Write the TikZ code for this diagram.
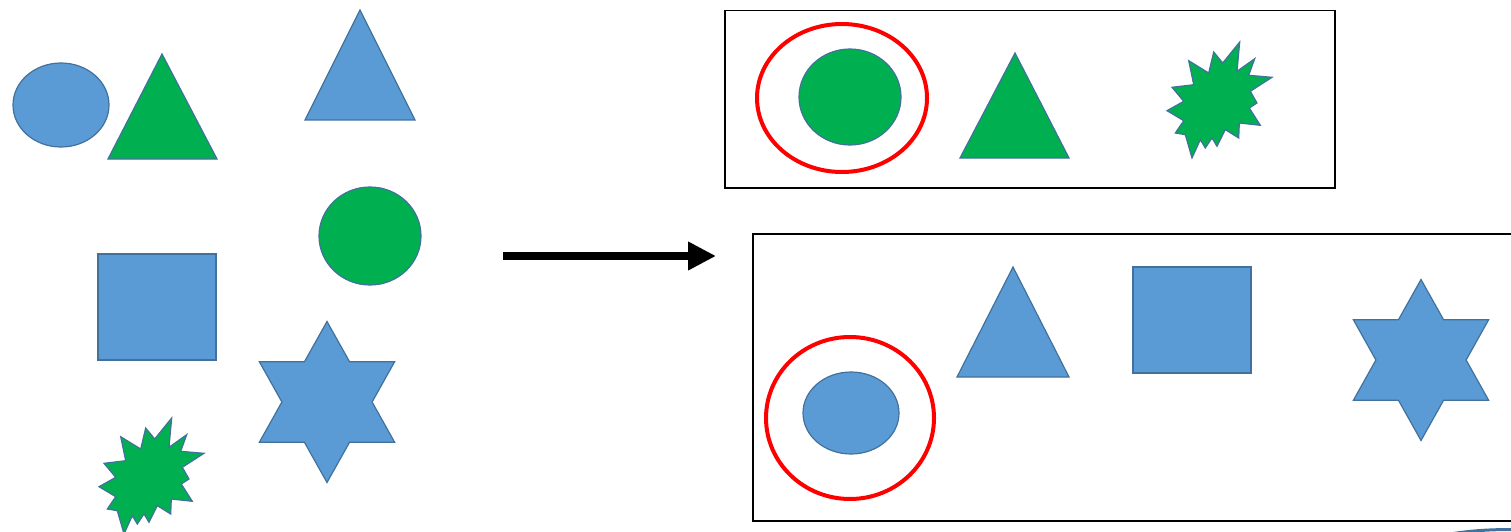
\documentclass[tikz,border=0pt]{standalone}
\usetikzlibrary{arrows.meta}
\definecolor{pblue}{HTML}{5B9BD5}
\definecolor{pedge}{HTML}{41719C}
\definecolor{pgreen}{HTML}{00B050}
\tikzset{
  bluesh/.style={fill=pblue,draw=pedge,line width=1.2pt,line join=miter},
  greensh/.style={fill=pgreen,draw=pedge,line width=1.2pt,line join=miter},
  redring/.style={draw=red,line width=4pt},
  frame/.style={draw=black,line width=1.5pt},
  hexstar/.pic={\path[bluesh,xscale=0.97] (90:80.5) -- (60:46.5) -- (30:80.5) -- (0:46.5) -- (-30:80.5) -- (-60:46.5) -- (-90:80.5) -- (-120:46.5) -- (-150:80.5) -- (180:46.5) -- (150:80.5) -- (120:46.5) -- cycle;},
  burst/.pic={\path[greensh] (77.7,4) -- (75,33.3) -- (92.7,20.7) -- (86.7,37.3) -- (110,39.3) -- (88.3,53.3) -- (95,65) -- (87.3,70) -- (98.3,87.3) -- (77.3,85) -- (76.7,100) -- (63.3,91.7) -- (55,108.3) -- (50,100) -- (43.3,110) -- (38.3,101.7) -- (30,120) -- (23.3,96.7) -- (13.3,95) -- (21.7,82.7) -- (5,72.7) -- (21.7,63.3) -- (10,49.3) -- (31.7,46.7) -- (26.7,22.7) -- (46.7,35) -- (51.7,14) -- (60.7,25) -- cycle;}
}
\begin{document}
\begin{tikzpicture}[x=1pt,y=-1pt]
\useasboundingbox (0,0) rectangle (1511,532);
% left group
\path[bluesh] (61,105) ellipse [x radius=48,y radius=42];
\path[greensh] (162,54) -- (217,159) -- (108,159) -- cycle;
\path[bluesh] (360,10) -- (415,120) -- (305,120) -- cycle;
\path[greensh] (370,236) ellipse [x radius=51,y radius=49];
\path[bluesh] (98,254) rectangle (216,360);
\pic at (327,402) {hexstar};
\pic at (94,414) {burst};
% arrow
\coordinate (a1) at (503,256);
\coordinate (a2) at (716,256);
\draw[line width=8pt,-{Triangle[length=28pt,width=27pt]}] (a1) -- (a2);
% top right box
\node[frame,minimum width=610pt,minimum height=177pt,inner sep=0pt,anchor=north west] (box1) at (724,10) {};
\path[redring] (842,98) ellipse [x radius=85,y radius=74];
\path[greensh] (850,97) ellipse [x radius=51,y radius=48];
\path[greensh] (1015,53) -- (1069,158) -- (960,158) -- cycle;
\pic at (1162,38) {burst};
% bottom right box
\draw[frame] (1520,234) -- (753,234) -- (753,521) -- (1520,521);
\path[redring] (850,418) ellipse [x radius=84,y radius=81];
\path[bluesh] (851,413) ellipse [x radius=48,y radius=41];
\path[bluesh] (1013,267) -- (1069,377) -- (957,377) -- cycle;
\path[bluesh] (1133,267) rectangle (1251,373);
\pic at (1421,360) {hexstar};
% partial shape at bottom right corner
\draw[pedge,line width=3pt] (1450,534) .. controls (1475,530) and (1495,529.5) .. (1515,529.5);
\end{tikzpicture}
\end{document}
